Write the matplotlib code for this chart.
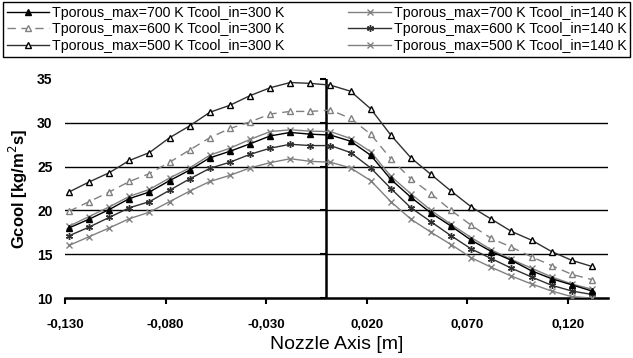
import numpy as np
import matplotlib
matplotlib.use('Agg')
import matplotlib.pyplot as plt
from matplotlib.ticker import FuncFormatter

plt.rcParams['font.family'] = ['Liberation Sans', 'DejaVu Sans']

# x positions along the nozzle axis [m]
x = [-0.128, -0.118, -0.108, -0.098, -0.088, -0.078, -0.068, -0.058, -0.048,
     -0.038, -0.028, -0.018, -0.008, 0.002, 0.012, 0.022, 0.032, 0.042,
     0.052, 0.062, 0.072, 0.082, 0.092, 0.102, 0.112, 0.122, 0.132]

# Gcool [kg/m2s]
g700_300 = [18.0, 19.0, 20.1, 21.35, 22.1, 23.4, 24.6, 26.0, 26.75, 27.6, 28.5,
            28.9, 28.7, 28.6, 27.9, 26.3, 23.55, 21.5, 19.7, 18.2, 16.6, 15.3,
            14.3, 13.1, 12.2, 11.5, 10.8]
g600_300 = [19.9, 21.0, 22.1, 23.3, 24.2, 25.5, 26.9, 28.3, 29.35, 30.1, 31.0,
            31.3, 31.3, 31.45, 30.5, 28.7, 25.9, 23.6, 21.9, 20.0, 18.3, 16.8,
            15.8, 14.7, 13.7, 12.7, 12.1]
g500_300 = [22.1, 23.25, 24.3, 25.7, 26.6, 28.3, 29.65, 31.2, 32.0, 33.1, 34.0,
            34.6, 34.5, 34.3, 33.6, 31.6, 28.6, 26.0, 24.1, 22.2, 20.4, 19.0,
            17.6, 16.6, 15.3, 14.3, 13.6]
g700_140 = [18.2, 19.3, 20.4, 21.6, 22.4, 23.7, 24.85, 26.3, 27.1, 28.1, 29.0,
            29.2, 29.05, 29.0, 28.2, 26.7, 23.9, 21.9, 20.0, 18.4, 16.9, 15.5,
            14.4, 13.4, 12.4, 11.6, 11.0]
g600_140 = [17.1, 18.1, 19.2, 20.3, 21.0, 22.3, 23.6, 24.8, 25.5, 26.4, 27.1,
            27.55, 27.4, 27.4, 26.6, 24.85, 22.5, 20.3, 18.7, 17.1, 15.6, 14.5,
            13.4, 12.4, 11.45, 10.8, 10.4]
g500_140 = [16.0, 17.0, 18.0, 19.05, 19.8, 21.0, 22.2, 23.3, 24.0, 24.85, 25.45,
            25.9, 25.6, 25.5, 24.85, 23.4, 21.0, 19.0, 17.5, 16.1, 14.6, 13.5,
            12.5, 11.6, 10.8, 10.15, 10.0]

labels = ['Tporous_max=700 K Tcool_in=300 K', 'Tporous_max=600 K Tcool_in=300 K',
          'Tporous_max=500 K Tcool_in=300 K', 'Tporous_max=700 K Tcool_in=140 K',
          'Tporous_max=600 K Tcool_in=140 K', 'Tporous_max=500 K Tcool_in=140 K']

xticks = [-0.13, -0.08, -0.03, 0.02, 0.07, 0.12]
yticks = [10, 15, 20, 25, 30, 35]

fig = plt.figure(figsize=(6.33, 3.58), dpi=100)
ax = fig.add_axes([65 / 633, 1 - 298 / 358, 543 / 633, 219 / 358])

gray = '#808080'
dark = '#303030'
h1, = ax.plot(x, g700_300, color='black', lw=1.0, marker='^', ms=5,
              mfc='black', mec='black', label=labels[0], zorder=5)
h2, = ax.plot(x, g600_300, color=gray, lw=1.0, ls=(0, (6, 4)), marker='^', ms=5,
              mfc='white', mec=gray, label=labels[1], zorder=4)
h3, = ax.plot(x, g500_300, color=dark, lw=1.0, marker='^', ms=5,
              mfc='white', mec='black', label=labels[2], zorder=4)
h4, = ax.plot(x, g700_140, color=gray, lw=1.0, marker='x', ms=4.5,
              mec=gray, label=labels[3], zorder=4)
h5, = ax.plot(x, g600_140, color=dark, lw=1.0, marker=(6, 2, 0), ms=5,
              mec=dark, label=labels[4], zorder=4)
h6, = ax.plot(x, g500_140, color=gray, lw=1.0, marker='x', ms=4.5,
              mec=gray, label=labels[5], zorder=4)

ax.set_xlim(-0.13, 0.14)
ax.set_ylim(10, 35)
ax.set_xticks(xticks)
ax.set_yticks(yticks)
ax.xaxis.set_major_formatter(FuncFormatter(lambda v, p: f'{v:.3f}'.replace('.', ',')))

for s in ['top', 'right', 'left']:
    ax.spines[s].set_visible(False)
ax.spines['bottom'].set_linewidth(1.8)

ax.tick_params(axis='x', direction='out', length=4, width=1.5, pad=11,
               labelsize=9.5)
ax.tick_params(axis='y', length=0, pad=9, labelsize=10)
for t in ax.get_xticklabels() + ax.get_yticklabels():
    t.set_fontweight('bold')

# horizontal gridlines
for yv in [15, 20, 25, 30]:
    ax.axhline(yv, color='black', lw=1.0, zorder=1)

# vertical axis crossing at x = 0 with its tick marks
ax.axvline(0, color='black', lw=1.8, zorder=2)
ax.plot([0] * len(yticks), yticks, ls='none', marker=0, ms=4, mew=1.5,
        color='black', zorder=2, clip_on=False)

ax.set_xlabel('Nozzle Axis [m]', fontsize=14, labelpad=4)
ax.set_ylabel('Gcool [kg/m$^2$s]', fontsize=12, fontweight='bold', labelpad=5)

leg = fig.legend(handles=[h1, h2, h3, h4, h5, h6], loc='upper left',
                 bbox_to_anchor=(3 / 633, 1 - 60 / 358, 627 / 633, 58 / 358),
                 mode='expand', ncol=2, fontsize=10.2,
                 handlelength=3.0, handletextpad=0.2,
                 labelspacing=0.2, borderpad=0.25, borderaxespad=0,
                 fancybox=False, edgecolor='black', framealpha=1)
leg.get_frame().set_linewidth(1.0)

fig.savefig('out.png', dpi=100)
